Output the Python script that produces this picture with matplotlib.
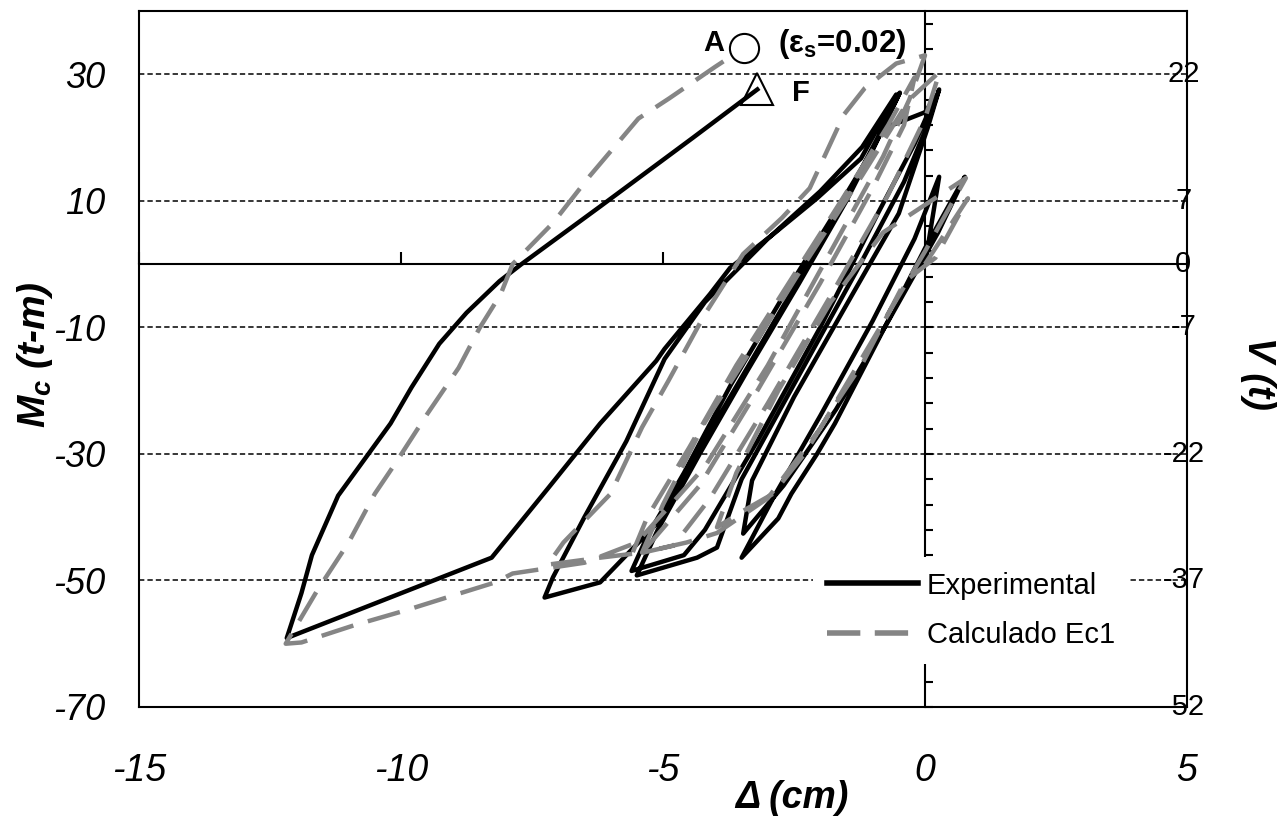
import matplotlib
matplotlib.use("Agg")
import matplotlib.pyplot as plt
import matplotlib.transforms as mtransforms
from matplotlib.lines import Line2D

plt.rcParams['font.family'] = ['Liberation Sans', 'DejaVu Sans']
plt.rcParams['mathtext.fontset'] = 'custom'
plt.rcParams['mathtext.rm'] = 'Liberation Sans'
plt.rcParams['mathtext.it'] = 'Liberation Sans:bold:italic'
plt.rcParams['mathtext.bf'] = 'Liberation Sans:bold'

# ---------------- data ----------------
exp_x = [0.0, 0.27, -0.2, -1.0, -2.0, -2.9, -3.5, -2.8, -2.55, -2.06, -1.72, -0.8, 0.0, 0.76,
         0.25, -0.7, -1.7, -2.7, -3.47, -3.3, -2.5, -1.4, -0.5, 0.05, 0.27,
         0.0, -0.4, -1.3, -2.5, -3.5, -3.97, -4.35, -5.5, -5.1, -4.3, -3.4, -2.4, -1.5, -0.8, 0.0, 0.2,
         -0.2, -0.9, -2.0, -3.2, -4.2, -4.6, -5.6, -5.3, -4.6, -3.7, -2.7, -1.8, -1.0, -0.48,
         -0.9, -1.6, -2.8, -4.0, -5.0, -6.2, -7.26, -7.1, -6.5, -5.7, -4.97, -4.2, -3.0, -2.0, -1.2, -0.55,
         -1.22, -2.06, -2.9, -3.72, -4.1, -4.97, -5.13, -6.2, -7.2, -8.27, -12.18,
         -11.9, -11.7, -11.2, -10.2, -9.8, -9.27, -8.75, -8.12, -7.7, -6.2, -4.44, -3.2]
exp_y = [0.0, 13.8, 4.0, -9.0, -24.0, -37.0, -46.4, -40.2, -36.3, -30.0, -25.2, -10.5, 2.5, 13.8,
         5.0, -9.0, -23.0, -35.0, -42.6, -34.2, -21.0, -5.0, 8.0, 21.5, 27.6,
         21.0, 13.0, -1.0, -19.0, -34.0, -44.8, -46.4, -49.2, -42.0, -30.0, -17.0, -3.0, 10.0, 21.4, 24.0, 26.5,
         19.0, 8.0, -10.0, -28.0, -42.0, -46.0, -48.5, -43.0, -33.0, -19.0, -5.0, 7.0, 18.0, 27.1,
         20.0, 9.0, -8.0, -25.0, -40.0, -50.3, -52.7, -49.5, -40.0, -28.0, -15.0, -6.0, 4.0, 11.5, 18.5, 26.8,
         16.7, 10.4, 4.7, -0.6, -4.7, -13.4, -15.3, -25.2, -35.5, -46.4, -59.1,
         -52.0, -46.0, -36.6, -25.2, -19.5, -12.6, -7.7, -2.7, 0.0, 9.1, 19.9, 27.6]

calc_x = [0.0, 0.82, 0.2, -0.38, -1.2, -1.7, -2.3, -2.9, -3.47, -3.97, -3.6, -2.8, -1.8, -0.8, 0.78,
          0.0, -1.0, -2.0, -3.0, -3.97, -4.55, -5.4, -5.0, -4.2, -3.2, -2.3, -1.2, -0.3, 0.28,
          0.0, -0.7, -1.8, -3.0, -4.1, -4.8, -5.6, -5.3, -4.5, -3.6, -2.6, -1.6, -0.7, -0.2,
          -0.4, -1.0, -2.0, -3.2, -4.3, -5.4, -6.2, -7.2, -6.9, -6.0, -5.4, -4.9, -4.2, -3.8, -3.47,
          -2.73, -2.2, -1.55, -1.15, -0.55, 0.0,
          -0.3, -0.8, -1.8, -3.0, -4.2, -5.5, -6.5, -7.87, -8.2, -8.9, -9.9, -10.9, -11.9, -12.2,
          -11.6, -11.0, -10.5, -10.1, -9.5, -8.9, -8.5, -8.1, -7.87, -7.1, -6.4, -5.47, -4.88, -4.0, -3.45]
calc_y = [0.0, 10.4, 1.0, -2.7, -15.8, -22.0, -30.0, -36.3, -39.0, -41.6, -33.0, -20.0, -6.0, 5.0, 13.6,
          2.0, -12.0, -26.0, -37.0, -42.5, -44.0, -45.6, -38.0, -25.0, -12.0, 0.0, 14.0, 26.0, 30.4,
          23.0, 11.0, -5.0, -22.0, -37.0, -44.5, -46.0, -40.0, -29.0, -16.0, -3.0, 10.0, 22.0, 29.5,
          22.0, 12.0, -3.0, -20.0, -35.0, -45.6, -46.4, -47.5, -44.0, -36.3, -25.8, -18.5, -7.9, -2.7, 1.6,
          7.3, 12.0, 23.6, 27.8, 31.7, 33.0,
          26.0, 17.0, 2.0, -16.0, -32.0, -44.0, -47.2, -48.9, -50.3, -52.1, -54.7, -57.1, -59.8, -60.0,
          -51.6, -44.0, -36.3, -31.4, -23.7, -16.4, -10.1, -4.8, 0.0, 6.5, 13.9, 23.0, 26.2, 31.2, 34.2]

m_ticks = [-70, -50, -30, -10, 10, 30]
x_ticks = [-15, -10, -5, 0, 5]
v_tick_pos = [30, 10, 0, -10, -30, -50, -70]
v_tick_labels = ['22', '7', '0', '-7', '-22', '-37', '-52']
minor_m_ticks = list(range(-70, 40, 4))

x_min, x_max = -15, 5
y_min, y_max = -70, 40

# ---------------- figure ----------------
fig = plt.figure(figsize=(12.81, 8.25), dpi=100)
ax = fig.add_axes([139 / 1281, 118 / 825, 1048 / 1281, 696 / 825])
ax.set_xlim(x_min, x_max)
ax.set_ylim(y_min, y_max)
ax.set_axisbelow(True)

for sp in ax.spines.values():
    sp.set_linewidth(1.5)
    sp.set_color('black')

ax.set_yticks(m_ticks)
ax.set_yticklabels([str(v) for v in m_ticks], fontstyle='italic', fontsize=26)
ax.set_xticks(x_ticks)
ax.set_xticklabels([str(v) for v in x_ticks], fontstyle='italic', fontsize=27)
ax.tick_params(axis='y', length=0, pad=24)
ax.tick_params(axis='x', length=0, pad=33)
ax.yaxis.grid(True, color='black', linewidth=1.1, linestyle=(0, (3.5, 2)))
ax.xaxis.grid(False)

# axis lines through the origin
sx = ax.secondary_xaxis((0 - y_min) / (y_max - y_min))
sx.set_xticks(x_ticks)
sx.tick_params(axis='x', direction='out', length=9, width=1.5, labeltop=False, labelbottom=False)
sx.spines['top'].set_linewidth(1.5)
sx.spines['bottom'].set_linewidth(1.5)

sy = ax.secondary_yaxis((0 - x_min) / (x_max - x_min))
sy.set_yticks(minor_m_ticks)
sy.tick_params(axis='y', direction='out', length=6, width=1.5, labelright=False, labelleft=False)
sy.spines['right'].set_linewidth(1.5)
sy.spines['left'].set_linewidth(1.5)

# data
ax.plot(exp_x, exp_y, color='black', linewidth=3.2, zorder=3, label='Experimental')
ax.plot(calc_x, calc_y, color='#858585', linewidth=3.2, linestyle=(0, (7.5, 3.4)), zorder=3.5,
        label='Calculado Ec1')

# markers A and F
ax.plot([calc_x[-1]], [calc_y[-1]], 'o', ms=21, mfc='white', mec='black', mew=1.5, zorder=6)
ax.plot([exp_x[-1]], [exp_y[-1]], '^', ms=23, mfc='none', mec='black', mew=1.5, zorder=6)
ax.annotate('A', (calc_x[-1], calc_y[-1]), xytext=(-14, 3.5), textcoords='offset points',
            ha='right', va='center', fontsize=21, fontweight='bold', zorder=7)
ax.annotate(r'(ε$_{\mathbf{s}}$=0.02)', (calc_x[-1], calc_y[-1]), xytext=(24, 2.5),
            textcoords='offset points', ha='left', va='center', fontsize=22.5, fontweight='bold', zorder=7)
ax.annotate('F', (exp_x[-1], exp_y[-1]), xytext=(25, -2.5), textcoords='offset points',
            ha='left', va='center', fontsize=21, fontweight='bold', zorder=7)

# right-hand V labels
trans = mtransforms.blended_transform_factory(ax.transAxes, ax.transData)
for pos, lab in zip(v_tick_pos, v_tick_labels):
    ax.text(0.9965, pos, lab, transform=trans, ha='center', va='center', fontsize=21, zorder=4)

# axis labels
ax.set_ylabel(r'$M_c$ (t-m)', fontsize=28, fontweight='bold', fontstyle='italic')
ax.yaxis.set_label_coords(-0.080, 0.506)
ax.set_xlabel('Δ (cm)', fontsize=27, fontweight='bold', fontstyle='italic')
ax.xaxis.set_label_coords(0.623, -0.105)
fig.text(1258 / 1281, (825 - 373) / 825, 'V (t)', rotation=270, ha='center', va='center',
         fontsize=27, fontweight='bold', fontstyle='italic')

# legend
handles = [Line2D([], [], color='black', linewidth=4),
           Line2D([], [], color='#858585', linewidth=4, linestyle=(0, (6, 2.6)))]
leg = ax.legend(handles, ['Experimental', 'Calculado Ec1'], loc='center left',
                bbox_to_anchor=(0.643, 0.1387), fontsize=21, frameon=True, fancybox=False,
                framealpha=1, facecolor='white', edgecolor='none', borderpad=0.5,
                handlelength=3.1, handletextpad=0.3, labelspacing=0.75, borderaxespad=0)
leg.set_zorder(8)

fig.savefig('out.png', dpi=100)
